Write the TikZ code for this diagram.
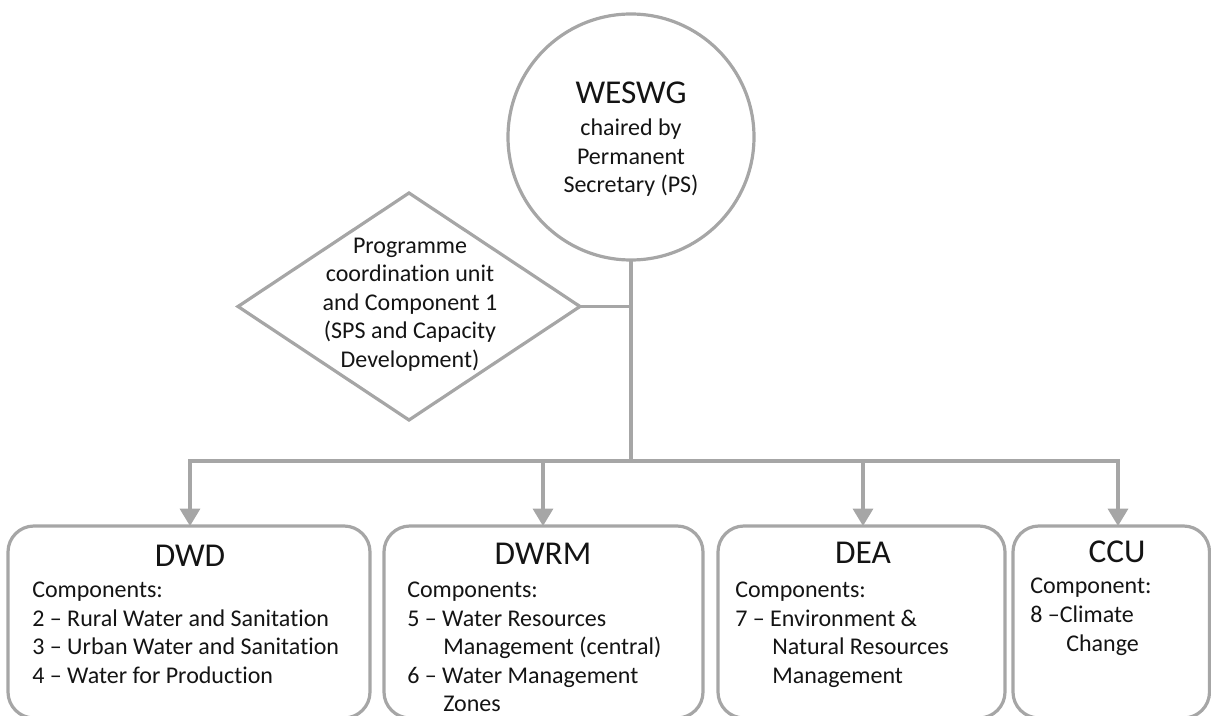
\documentclass[tikz,border=0pt]{standalone}
\usepackage{fontspec}
\setmainfont{Carlito}[Ligatures={NoCommon}]
\usetikzlibrary{shapes.geometric,arrows.meta}
\definecolor{lgray}{HTML}{A6A6A6}
\definecolor{txt}{HTML}{141414}
\begin{document}
\begin{tikzpicture}[x=0.75pt,y=-0.75pt,
  shapeline/.style={draw=lgray,line width=2.4pt,outer sep=0pt,inner sep=0pt},
  conn/.style={draw=lgray,line width=2.4pt},
  arr/.style={conn,-{Triangle[width=15pt,length=13pt]}},
  unitbox/.style={shapeline,rounded corners=19.5pt,anchor=north,minimum height=144pt},
  ttl/.style={font=\fontsize{25}{30}\selectfont,text=txt,anchor=base,inner sep=0pt},
  body/.style={font=\fontsize{18}{21}\selectfont,text=txt,anchor=base west,inner sep=0pt},
  bodyc/.style={font=\fontsize{18}{21}\selectfont,text=txt,anchor=base,inner sep=0pt}]
\clip (0,0) rectangle (1211,716);
% shapes
\node[shapeline,circle,minimum size=184.5pt] (ws) at (631,137) {};
\node[shapeline,diamond,minimum width=256.5pt,minimum height=170.25pt] (pcu) at (409,306.5) {};
\node[unitbox,minimum width=271.5pt] (dwd) at (189,526) {};
\node[unitbox,minimum width=239.25pt] (dwrm) at (543.5,526) {};
\node[unitbox,minimum width=215.25pt] (dea) at (861.5,526) {};
\node[unitbox,minimum width=147.4pt] (ccu) at (1111.25,526) {};
% connectors
\coordinate (hub) at (631,461);
\coordinate (bDWD) at (190,461);
\coordinate (bDWRM) at (543,461);
\coordinate (bDEA) at (863,461);
\coordinate (bCCU) at (1118,461);
\draw[conn] (ws.south) -- (hub);
\draw[conn] (pcu.east) -- (pcu.east -| hub);
\draw[conn,line cap=rect] (bDWD) -- (bCCU);
\draw[arr] (bDWD) -- (bDWD |- dwd.north);
\draw[arr] (bDWRM) -- (bDWRM |- dwrm.north);
\draw[arr] (bDEA) -- (bDEA |- dea.north);
\draw[arr] (bCCU) -- (bCCU |- ccu.north);
% circle text
\node[ttl] (wsT) at (631,104) {WESWG};
\node[bodyc] (wsL1) at (631,136) {chaired by};
\node[bodyc] (wsL2) at (631,164.5) {Permanent};
\node[bodyc] (wsL3) at (631,193) {Secretary (PS)};
% diamond text
\node[bodyc] (pL1) at (410,253.5) {Programme};
\node[bodyc] (pL2) at (410,282) {coordination unit};
\node[bodyc] (pL3) at (410,310.5) {and Component 1};
\node[bodyc] (pL4) at (410,339) {(SPS and Capacity};
\node[bodyc] (pL5) at (410,367.5) {Development)};
% DWD
\node[ttl] (dwdT) at (190,566) {DWD};
\node[body] (dwd1) at (32,597.5) {Components:};
\node[body] (dwd2) at (32,626) {2 – Rural Water and Sanitation};
\node[body] (dwd3) at (32,654.5) {3 – Urban Water and Sanitation};
\node[body] (dwd4) at (32,683) {4 – Water for Production};
% DWRM
\node[ttl] (dwrmT) at (543,565) {DWRM};
\node[body] (dwrm1) at (407,597.5) {Components:};
\node[body] (dwrm2) at (407,626) {5 – Water Resources};
\node[body] (dwrm3) at (443,654.5) {Management (central)};
\node[body] (dwrm4) at (407,683) {6 – Water Management};
\node[body] (dwrm5) at (443,711.5) {Zones};
% DEA
\node[ttl] (deaT) at (863,563) {DEA};
\node[body] (dea1) at (735,597.5) {Components:};
\node[body] (dea2) at (735,626) {7 – Environment \&};
\node[body] (dea3) at (772,654.5) {Natural Resources};
\node[body] (dea4) at (772,683) {Management};
% CCU
\node[ttl] (ccuT) at (1117,562) {CCU};
\node[body] (ccu1) at (1030,593.5) {Component:};
\node[body] (ccu2) at (1030,622.5) {8 –Climate};
\node[body] (ccu3) at (1066,651.5) {Change};
\end{tikzpicture}
\end{document}
